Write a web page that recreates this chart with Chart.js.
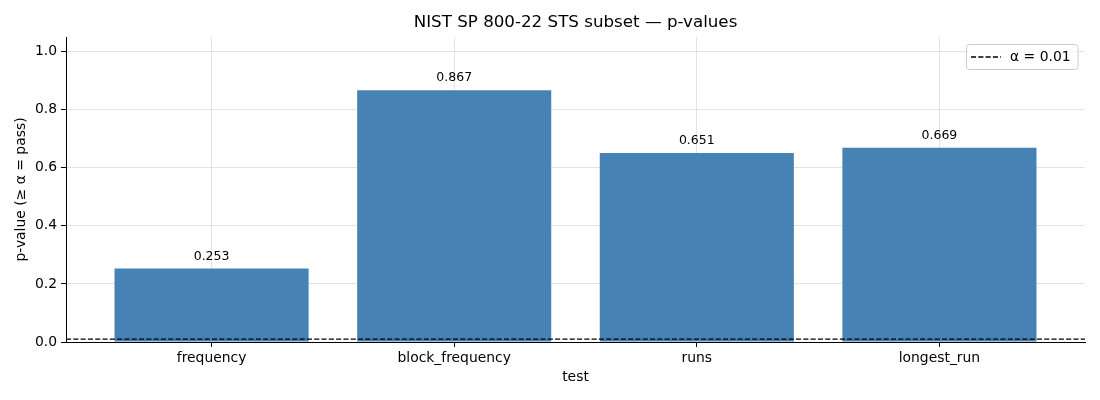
<!DOCTYPE html>
<html>
<head>
<meta charset="utf-8">
<script src="https://cdn.jsdelivr.net/npm/chart.js@4.4.1/dist/chart.umd.min.js"></script>
<style>
html,body{margin:0;padding:0;background:#fff;}
#wrap{width:1100px;height:400px;}
</style>
</head>
<body>
<div id="wrap"><canvas id="c" width="1100" height="400"></canvas></div>
<script>
const categories = ['frequency', 'block_frequency', 'runs', 'longest_run'];
const pValues = [0.253, 0.867, 0.651, 0.669];
const alphaLevel = 0.01;
const alphaLabel = 'α = 0.01';
const yTicks = [0.0, 0.2, 0.4, 0.6, 0.8, 1.0];
const titleText = 'NIST SP 800-22 STS subset — p-values';
const xTitle = 'test';
const yTitle = 'p-value (≥ α = pass)';

const FONT = "'DejaVu Sans', sans-serif";
const DASH = [5.1, 2.2];
const barData = pValues.map((v, i) => ({x: i, y: v}));
const xMin = -0.6, xMax = categories.length - 1 + 0.6;
const alphaData = [{x: xMin, y: alphaLevel}, {x: xMax, y: alphaLevel}];

const labelPlugin = {
  id: 'barLabels',
  afterDatasetsDraw(chart) {
    const ctx = chart.ctx;
    const meta = chart.getDatasetMeta(0);
    ctx.save();
    ctx.font = "12.5px " + FONT;
    ctx.fillStyle = '#000';
    ctx.textAlign = 'center';
    ctx.textBaseline = 'bottom';
    meta.data.forEach((bar, i) => {
      ctx.fillText(pValues[i].toFixed(3), bar.x, bar.y - 6);
    });
    ctx.restore();
  }
};

const titlePlugin = {
  id: 'axesTitle',
  afterDraw(chart) {
    const ctx = chart.ctx;
    const area = chart.chartArea;
    ctx.save();
    ctx.font = "16.7px " + FONT;
    ctx.fillStyle = '#000';
    ctx.textAlign = 'center';
    ctx.textBaseline = 'middle';
    ctx.fillText(titleText, (area.left + area.right) / 2, area.top - 14);
    ctx.restore();
  }
};

const legendPlugin = {
  id: 'customLegend',
  afterDraw(chart) {
    const ctx = chart.ctx;
    const area = chart.chartArea;
    ctx.save();
    ctx.font = "13.9px " + FONT;
    const tw = ctx.measureText(alphaLabel).width;
    const w = 44 + tw + 7;
    const h = 25;
    const x = Math.round(area.right - 7 - w);
    const y = Math.round(area.top + 7);
    ctx.beginPath();
    if (ctx.roundRect) ctx.roundRect(x + 0.5, y + 0.5, w, h, 3); else ctx.rect(x + 0.5, y + 0.5, w, h);
    ctx.fillStyle = 'rgba(255,255,255,0.8)';
    ctx.fill();
    ctx.strokeStyle = '#cccccc';
    ctx.lineWidth = 1;
    ctx.stroke();
    ctx.beginPath();
    ctx.setLineDash(DASH);
    ctx.strokeStyle = '#000';
    ctx.lineWidth = 1.3;
    ctx.moveTo(x + 5, y + h / 2 + 0.5);
    ctx.lineTo(x + 35, y + h / 2 + 0.5);
    ctx.stroke();
    ctx.setLineDash([]);
    ctx.fillStyle = '#000';
    ctx.textBaseline = 'middle';
    ctx.textAlign = 'left';
    ctx.fillText(alphaLabel, x + 44, y + h / 2 + 1);
    ctx.restore();
  }
};

new Chart(document.getElementById('c'), {
  type: 'bar',
  data: {
    datasets: [
      {
        type: 'bar',
        label: 'p-value',
        data: barData,
        backgroundColor: '#4682b4',
        borderWidth: 0,
        barPercentage: 0.8,
        categoryPercentage: 1.0,
        order: 2
      },
      {
        type: 'line',
        label: alphaLabel,
        data: alphaData,
        borderColor: '#000',
        borderWidth: 1.3,
        borderDash: DASH,
        pointRadius: 0,
        fill: false,
        order: 1
      }
    ]
  },
  options: {
    responsive: false,
    animation: false,
    devicePixelRatio: 1,
    layout: {padding: {left: 0, right: 15, top: 37, bottom: 0}},
    plugins: {
      legend: {display: false},
      tooltip: {enabled: false},
      title: {display: false}
    },
    scales: {
      x: {
        type: 'linear',
        min: xMin,
        max: xMax,
        offset: false,
        z: 1,
        afterBuildTicks(axis) { axis.ticks = categories.map((c, i) => ({value: i})); },
        afterFit(axis) { axis.height = 58; },
        ticks: {
          color: '#000',
          font: {family: FONT, size: 13.9},
          padding: 3,
          maxRotation: 0,
          autoSkip: false,
          callback: (v) => categories[v] ?? ''
        },
        grid: {offset: false, color: 'rgba(176,176,176,0.35)', lineWidth: 1, tickColor: '#000', tickLength: 5, drawTicks: true},
        border: {display: true, color: '#000', width: 1},
        title: {display: true, text: xTitle, color: '#000', font: {family: FONT, size: 13.9}, padding: {top: 4, bottom: 14.5}}
      },
      y: {
        type: 'linear',
        min: 0,
        max: 1.05,
        z: 1,
        afterBuildTicks(axis) { axis.ticks = yTicks.map(v => ({value: v})); },
        afterFit(axis) { axis.width = 66; },
        ticks: {
          color: '#000',
          font: {family: FONT, size: 13.9},
          padding: 4,
          callback: (v) => Number(v).toFixed(1)
        },
        grid: {offset: false, color: 'rgba(176,176,176,0.35)', lineWidth: 1, tickColor: '#000', tickLength: 5, drawTicks: true},
        border: {display: true, color: '#000', width: 1},
        title: {display: true, text: yTitle, color: '#000', font: {family: FONT, size: 13.9}, padding: {top: 13, bottom: 4}}
      }
    }
  },
  plugins: [labelPlugin, titlePlugin, legendPlugin]
});
</script>
</body>
</html>
